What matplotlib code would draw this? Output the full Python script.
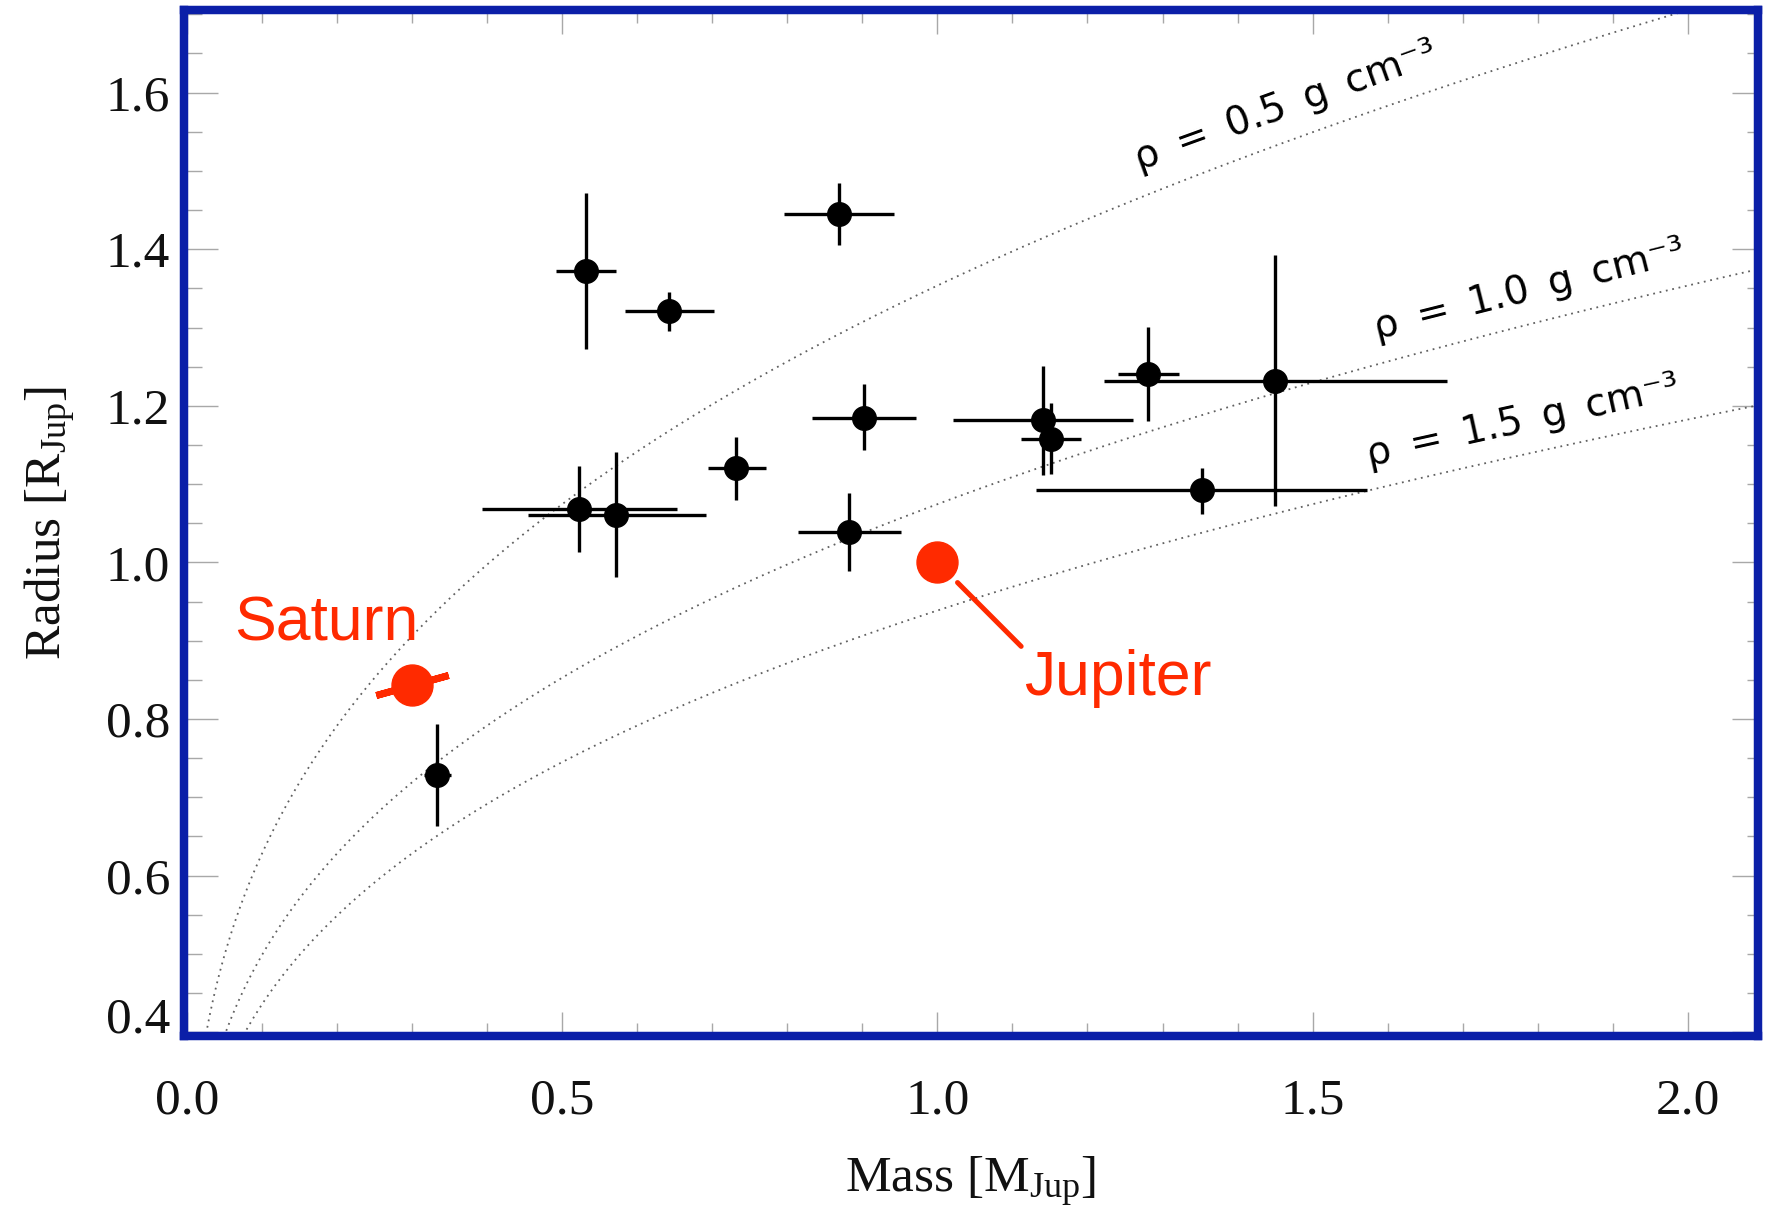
import numpy as np
import matplotlib.pyplot as plt
from matplotlib.ticker import MultipleLocator

plt.rcParams['font.family'] = 'Liberation Serif'
plt.rcParams['mathtext.fontset'] = 'custom'
plt.rcParams['mathtext.rm'] = 'Liberation Serif'
plt.rcParams['mathtext.it'] = 'Liberation Serif:italic'

# Transiting planets: mass and radius in Jupiter units, with lower/upper errors
mass = [0.333, 0.532, 0.642, 0.869, 0.523, 0.572, 0.732, 0.902, 0.882, 1.141, 1.152, 1.281, 1.450, 1.352]
mass_err_lo = [0.017, 0.040, 0.059, 0.073, 0.130, 0.118, 0.038, 0.069, 0.068, 0.120, 0.040, 0.040, 0.228, 0.220]
mass_err_hi = [0.019, 0.040, 0.060, 0.073, 0.130, 0.120, 0.040, 0.069, 0.070, 0.120, 0.040, 0.041, 0.229, 0.221]
radius = [0.729, 1.372, 1.321, 1.445, 1.068, 1.061, 1.120, 1.185, 1.039, 1.182, 1.158, 1.241, 1.232, 1.092]
radius_err_lo = [0.066, 0.100, 0.025, 0.039, 0.055, 0.080, 0.040, 0.042, 0.050, 0.070, 0.045, 0.060, 0.160, 0.030]
radius_err_hi = [0.064, 0.100, 0.024, 0.039, 0.055, 0.080, 0.040, 0.043, 0.050, 0.069, 0.045, 0.060, 0.160, 0.029]

# Solar system giants (mass, radius)
saturn = (0.30, 0.843)
jupiter = (1.0, 1.0)

# Constant-density curves
densities = [0.5, 1.0, 1.5]           # g cm^-3
density_label_mass = [1.48, 1.80, 1.79]

M_JUP = 1.898e30   # g
R_JUP = 7.1492e9   # cm
rho_jup = M_JUP / (4.0 / 3.0 * np.pi * R_JUP**3)

red = '#ff2a00'
blue = '#0b1fa8'
tick_grey = '#a8a8a8'


def radius_for(m, rho):
    return (np.asarray(m) * rho_jup / rho) ** (1.0 / 3.0)


fig = plt.figure(figsize=(17.73, 12.14), dpi=100)
ax = fig.add_axes([0.1038, 0.1466, 0.8875, 0.8448])
ax.set_xlim(-0.004, 2.093)
ax.set_ylim(0.395, 1.705)

# density curves
m_grid = np.linspace(0.001, 2.2, 1500)
for rho in densities:
    ax.plot(m_grid, radius_for(m_grid, rho), color='#606060', lw=1.3,
            ls=(0, (1, 2.6)), zorder=1)

# rotated labels sitting just above each curve
ts = '\u2009'
for rho, m_lab in zip(densities, density_label_mass):
    r_lab = radius_for(m_lab, rho)
    p1 = ax.transData.transform((m_lab, r_lab))
    p2 = ax.transData.transform((m_lab * 1.01, radius_for(m_lab * 1.01, rho)))
    ang = np.degrees(np.arctan2(p2[1] - p1[1], p2[0] - p1[0]))
    d = 24
    off = (-np.sin(np.radians(ang)) * d, np.cos(np.radians(ang)) * d)
    label = f'ρ{ts} ={ts} {rho:.1f}{ts} g{ts} cm⁻³'
    ax.annotate(label, xy=(m_lab, r_lab), xytext=off,
                textcoords='offset points', ha='center', va='center',
                rotation=ang, rotation_mode='anchor', fontsize=28,
                family='DejaVu Sans', color='black', zorder=3)

# measured planets
ax.errorbar(mass, radius,
            xerr=[mass_err_lo, mass_err_hi], yerr=[radius_err_lo, radius_err_hi],
            fmt='o', color='black', ms=17, elinewidth=2.4, capsize=0, zorder=4)

# Saturn with its ring, and Jupiter
ax.plot(*saturn, ls='none', marker=(2, 2, -74.5), ms=54, mew=5, mec=red, zorder=5)
ax.plot(*saturn, 'o', color=red, ms=29.5, zorder=6)
ax.plot(*jupiter, 'o', color=red, ms=29.5, zorder=6)

ax.text(0.0633, 0.9007, 'Saturn', color=red, fontsize=45, family='Liberation Sans',
        ha='left', va='baseline')
ax.annotate('Jupiter', xy=jupiter, xytext=(1.1153, 0.8304), textcoords='data',
            color=red, fontsize=45, family='Liberation Sans', ha='left', va='baseline',
            arrowprops=dict(arrowstyle='-', color=red, lw=3.6, relpos=(0, 1),
                            shrinkA=0, shrinkB=20.5))

# axes, ticks and frame
ax.set_xticks([0.0, 0.5, 1.0, 1.5, 2.0], labels=['0.0', '0.5', '1.0', '1.5', '2.0'])
yt = [0.4, 0.6, 0.8, 1.0, 1.2, 1.4, 1.6]
ax.set_yticks(yt, labels=[f'{t:.1f}' for t in yt])
ax.xaxis.set_minor_locator(MultipleLocator(0.1))
ax.yaxis.set_minor_locator(MultipleLocator(0.05))
ax.tick_params(which='both', direction='in', color=tick_grey, width=1.0,
               top=True, right=False, labelsize=37, labelcolor='#111111')
ax.tick_params(axis='x', which='major', length=17, pad=30)
ax.tick_params(axis='x', which='minor', length=9.5)
ax.tick_params(axis='y', which='major', length=24.5, pad=10)
ax.tick_params(axis='y', which='minor', length=13)
for lab in ax.get_yticklabels():
    if lab.get_text() == '0.4':
        lab.set_va('baseline')

sec = ax.secondary_yaxis('right')
sec.set_yticks(yt)
sec.yaxis.set_minor_locator(MultipleLocator(0.05))
sec.tick_params(which='both', direction='in', color=tick_grey, width=1.0, labelright=False)
sec.tick_params(which='major', length=19)
sec.tick_params(which='minor', length=8)
sec.spines['right'].set_visible(False)

for sp in ax.spines.values():
    sp.set_color(blue)
    sp.set_linewidth(6.1)
    sp.set_zorder(10)

ax.set_xlabel(r'Mass [M$_{\rm Jup}$]', fontsize=37, labelpad=22, color='#111111')
ax.set_ylabel(r'Radius [R$_{\rm Jup}$]', fontsize=37, labelpad=20, color='#111111')

fig.savefig('out.png', dpi=100)
